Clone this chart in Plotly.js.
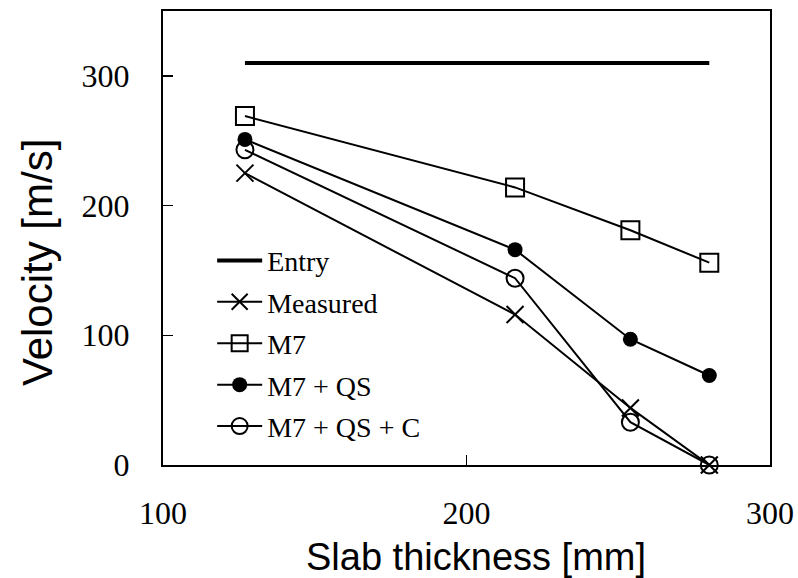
<!DOCTYPE html>
<html>
<head>
<meta charset="utf-8">
<script src="https://cdn.plot.ly/plotly-3.0.1.min.js"></script>
<style>html,body{margin:0;padding:0;background:#fff;}#chart{width:798px;height:578px;}</style>
</head>
<body>
<div id="chart"></div>
<script>
const thickness = [127, 216, 254, 280];
const entryX = [127, 280];
const entryY = [310, 310];
const measured = [225, 116, 44, 0];
const m7 = [269, 214, 181, 156];
const m7qs = [251, 166, 97, 69];
const m7qsc = [243, 144, 33, 0];
const xTicks = [100, 200, 300];
const yTicks = [0, 100, 200, 300];
const xTitle = 'Slab thickness [mm]';
const yTitle = 'Velocity [m/s]';

const black = '#000';
const serif = '"Liberation Serif", "Times New Roman", Times, serif';
const sans = '"Liberation Sans", Arial, sans-serif';
const traces = [
  {x: entryX, y: entryY, name: 'Entry', mode: 'lines', line: {color: black, width: 4}, legendgroup: 'a', cliponaxis: false},
  {x: thickness, y: measured, name: 'Measured', mode: 'lines+markers', line: {color: black, width: 2}, cliponaxis: false,
   marker: {symbol: 'x-thin', size: 17, line: {color: black, width: 2}}, legendgroup: 'b'},
  {x: thickness, y: m7, name: 'M7', mode: 'lines+markers', line: {color: black, width: 2}, cliponaxis: false,
   marker: {symbol: 'square-open', size: 18, color: black, line: {color: black, width: 2}}, legendgroup: 'c'},
  {x: thickness, y: m7qs, name: 'M7 + QS', mode: 'lines+markers', line: {color: black, width: 2}, cliponaxis: false,
   marker: {symbol: 'circle', size: 15, color: black}, legendgroup: 'd'},
  {x: thickness, y: m7qsc, name: 'M7 + QS + C', mode: 'lines+markers', line: {color: black, width: 2}, cliponaxis: false,
   marker: {symbol: 'circle-open', size: 17, color: black, line: {color: black, width: 2}}, legendgroup: 'e'}
];

const layout = {
  width: 798, height: 578,
  margin: {l: 163, r: 28, t: 11, b: 113},
  paper_bgcolor: '#fff', plot_bgcolor: '#fff',
  showlegend: true,
  legend: {x: 0.081, y: 0.505, xanchor: 'left', yanchor: 'top', bgcolor: 'rgba(0,0,0,0)',
    font: {family: serif, size: 28, color: black}, itemwidth: 45,
    traceorder: 'grouped', tracegroupgap: 2},
  xaxis: {range: [100, 300], tickvals: xTicks, ticktext: xTicks.map(String),
    showgrid: false, zeroline: false, showline: true, mirror: true, linecolor: black, linewidth: 2,
    ticks: 'inside', ticklen: 10, tickwidth: 1.5, tickcolor: black, ticklabelstandoff: 19,
    tickfont: {family: serif, size: 32, color: black}},
  yaxis: {range: [0, 350], tickvals: yTicks, ticktext: yTicks.map(String),
    showgrid: false, zeroline: false, showline: true, mirror: true, linecolor: black, linewidth: 2,
    ticks: 'inside', ticklen: 10, tickwidth: 1.5, tickcolor: black, ticklabelstandoff: 25,
    tickfont: {family: serif, size: 32, color: black}},
  annotations: [
    {text: xTitle, xref: 'paper', yref: 'paper', x: 0.5157, y: -0.2026, xanchor: 'center', yanchor: 'middle',
     showarrow: false, font: {family: sans, size: 38, color: black}},
    {text: yTitle, xref: 'paper', yref: 'paper', x: -0.2076, y: 0.447, xanchor: 'center', yanchor: 'middle',
     textangle: -90, showarrow: false, font: {family: sans, size: 42, color: black}}
  ]
};

Plotly.newPlot('chart', traces, layout, {displayModeBar: false, staticPlot: true});
</script>
</body>
</html>
